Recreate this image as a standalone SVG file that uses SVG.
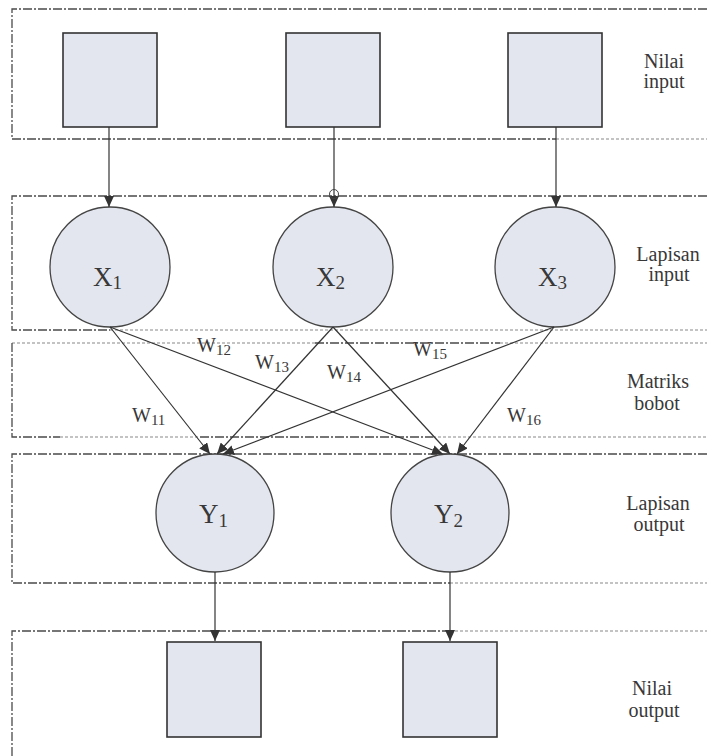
<svg xmlns="http://www.w3.org/2000/svg" width="707" height="756" viewBox="0 0 707 756">
<style>
.dk{stroke:#4a4a4a;stroke-width:1.3;stroke-dasharray:9 2 2 2;fill:none}
.lt{stroke:#b0b0b0;stroke-width:1.3;stroke-dasharray:3 2;fill:none}
.box{fill:#e3e6ee;stroke:#333;stroke-width:1.6}
.nd{fill:#e3e6ee;stroke:#444;stroke-width:1.3}
.cn{stroke:#333;stroke-width:1.2;fill:none}
.lbl{font-size:20px;text-anchor:middle}
.nl{font-size:27px}
.ns{font-size:19px}
.wl{font-size:20px}
.ws{font-size:15px}
</style>
<defs>
<marker id="ah" markerUnits="userSpaceOnUse" markerWidth="11" markerHeight="10" refX="11" refY="5" orient="auto">
<path d="M0,0 L11,5 L0,10 z" fill="#333"/>
</marker>
</defs>
<g id="bands">
<path class="dk" d="M707,9 H12 V139 H556"/>
<path class="lt" d="M556,139 H707"/>
<path class="dk" d="M707,196 H12 V330 H110"/>
<path class="lt" d="M110,330 H707"/>
<path class="lt" d="M12,343 H315"/>
<path class="dk" d="M315,343 H500"/>
<path class="lt" d="M500,343 H707"/>
<path class="dk" d="M12,343 V437 H60"/>
<path class="lt" d="M60,437 H200"/>
<path class="dk" d="M200,437 H433"/>
<path class="lt" d="M433,437 H707"/>
<path class="dk" d="M707,454 H12 V583 H450"/>
<path class="lt" d="M450,583 H707"/>
<path class="dk" d="M12,756 V631 H450"/>
<path class="lt" d="M450,631 H707"/>
</g>
<g id="in1"><rect class="box" x="63" y="33" width="94" height="94"/></g>
<g id="in2"><rect class="box" x="286" y="33" width="94" height="94"/></g>
<g id="in3"><rect class="box" x="508" y="33" width="94" height="94"/></g>
<g id="x1" font-family="Liberation Serif, Times New Roman, serif" fill="#383838"><circle class="nd" cx="110" cy="267" r="60"/><text class="nl" x="93" y="286">X<tspan class="ns" dy="3">1</tspan></text></g>
<g id="x2" font-family="Liberation Serif, Times New Roman, serif" fill="#383838"><circle class="nd" cx="333" cy="267" r="60"/><text class="nl" x="316" y="286">X<tspan class="ns" dy="3">2</tspan></text></g>
<g id="x3" font-family="Liberation Serif, Times New Roman, serif" fill="#383838"><circle class="nd" cx="555" cy="267" r="60"/><text class="nl" x="538" y="286">X<tspan class="ns" dy="3">3</tspan></text></g>
<g id="y1" font-family="Liberation Serif, Times New Roman, serif" fill="#383838"><circle class="nd" cx="215" cy="513" r="59"/><text class="nl" x="199" y="523">Y<tspan class="ns" dy="4">1</tspan></text></g>
<g id="y2" font-family="Liberation Serif, Times New Roman, serif" fill="#383838"><circle class="nd" cx="450" cy="513" r="59"/><text class="nl" x="434" y="523">Y<tspan class="ns" dy="4">2</tspan></text></g>
<g id="out1"><rect class="box" x="167" y="642" width="94" height="95"/></g>
<g id="out2"><rect class="box" x="403" y="642" width="94" height="95"/></g>
<g id="connectors">
<line class="cn" x1="109" y1="127" x2="109" y2="207" marker-end="url(#ah)"/>
<line class="cn" x1="334" y1="127" x2="334" y2="207" marker-end="url(#ah)"/>
<circle cx="334" cy="194" r="4.5" fill="none" stroke="#444" stroke-width="1"/>
<line class="cn" x1="556" y1="127" x2="556" y2="207" marker-end="url(#ah)"/>
<line class="cn" x1="110" y1="327" x2="210" y2="454" marker-end="url(#ah)"/>
<line class="cn" x1="110" y1="327" x2="443" y2="454" marker-end="url(#ah)"/>
<line class="cn" x1="333" y1="327" x2="217" y2="454" marker-end="url(#ah)"/>
<line class="cn" x1="333" y1="327" x2="450" y2="454" marker-end="url(#ah)"/>
<line class="cn" x1="554" y1="327" x2="223" y2="454" marker-end="url(#ah)"/>
<line class="cn" x1="554" y1="327" x2="457" y2="454" marker-end="url(#ah)"/>
<line class="cn" x1="215" y1="572" x2="215" y2="641" marker-end="url(#ah)"/>
<line class="cn" x1="450" y1="572" x2="450" y2="641" marker-end="url(#ah)"/>
</g>
<g id="weights" font-family="Liberation Serif, Times New Roman, serif" fill="#383838">
<text class="wl" x="197" y="352">W<tspan class="ws" dy="3">12</tspan></text>
<text class="wl" x="255" y="369">W<tspan class="ws" dy="3">13</tspan></text>
<text class="wl" x="327" y="379">W<tspan class="ws" dy="3">14</tspan></text>
<text class="wl" x="413" y="356">W<tspan class="ws" dy="3">15</tspan></text>
<text class="wl" x="132" y="422">W<tspan class="ws" dy="3">11</tspan></text>
<text class="wl" x="507" y="422">W<tspan class="ws" dy="3">16</tspan></text>
</g>
<g id="labels" font-family="Liberation Serif, Times New Roman, serif" fill="#383838">
<text class="lbl" x="664" y="68">Nilai</text>
<text class="lbl" x="664" y="88">input</text>
<text class="lbl" x="668" y="261">Lapisan</text>
<text class="lbl" x="669" y="281">input</text>
<text class="lbl" x="658" y="388">Matriks</text>
<text class="lbl" x="657" y="410">bobot</text>
<text class="lbl" x="658" y="510">Lapisan</text>
<text class="lbl" x="659" y="531">output</text>
<text class="lbl" x="652" y="695">Nilai</text>
<text class="lbl" x="654" y="717">output</text>
</g>
</svg>
